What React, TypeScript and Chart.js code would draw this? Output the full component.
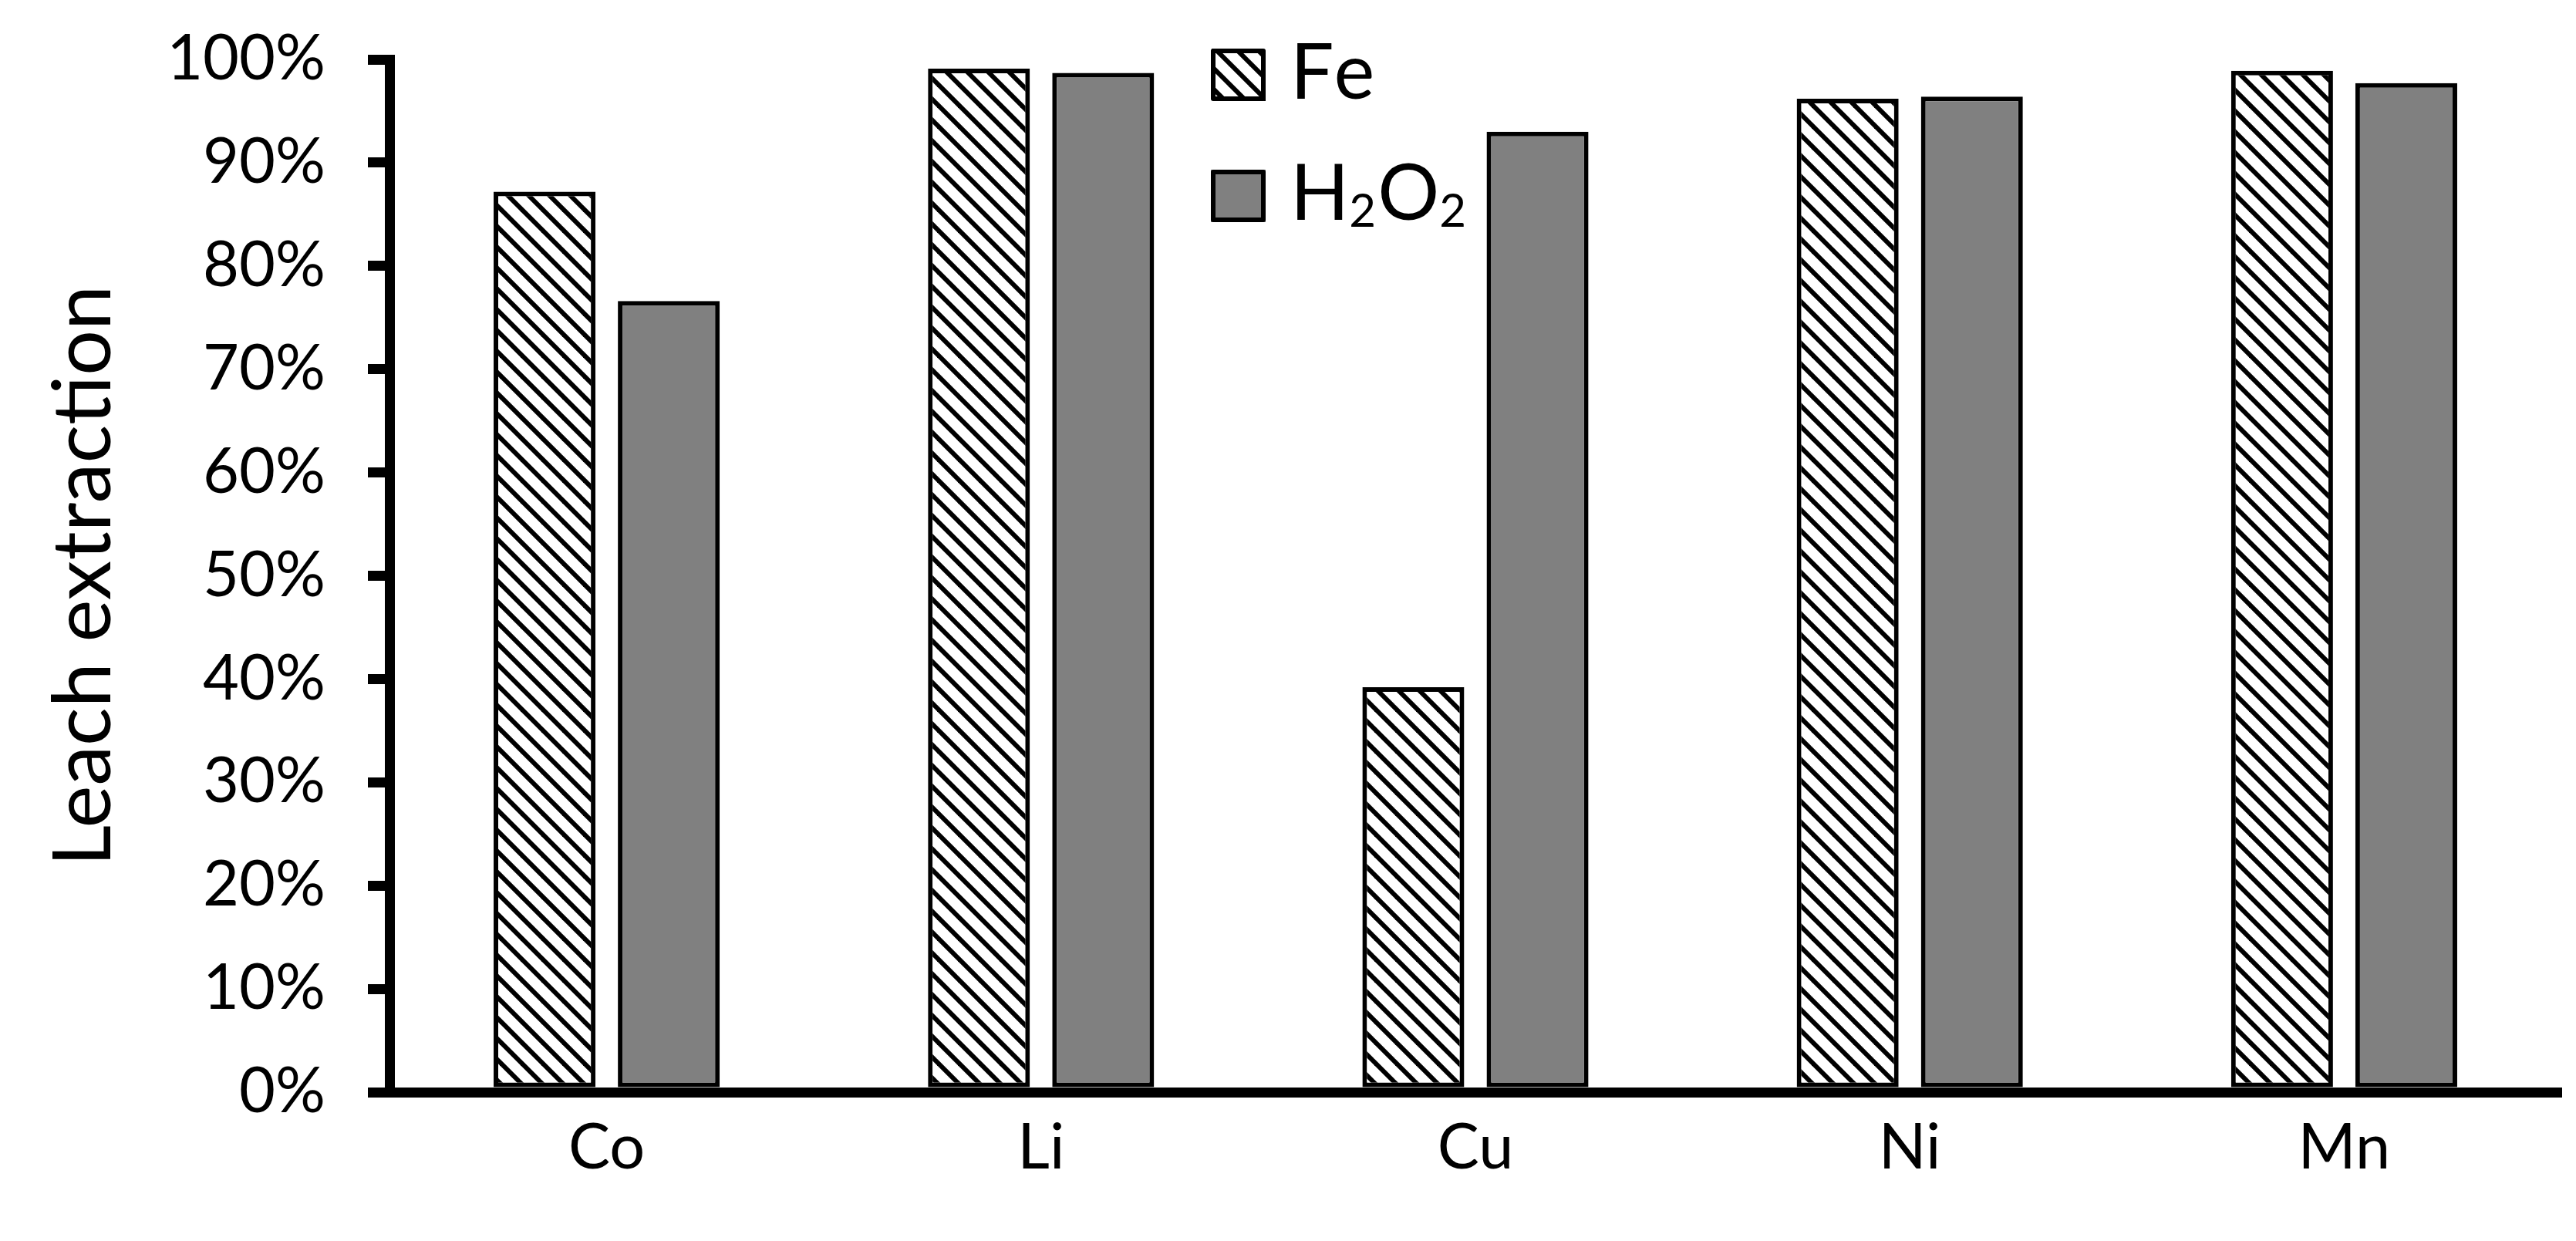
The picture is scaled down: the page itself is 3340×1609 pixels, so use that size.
import React, { useEffect, useRef } from 'react';
import { Chart, registerables } from 'chart.js';

Chart.register(...registerables);

// ---- data ----
const categories = ['Co', 'Li', 'Cu', 'Ni', 'Mn'];
const seriesLabels = ['Fe', 'H₂O₂'];
const feValues = [87.2, 99.1, 39.2, 96.2, 98.9];
const h2o2Values = [76.6, 98.7, 93.0, 96.4, 97.7];
const yAxisTitle = 'Leach extraction';
const yMin = 0;
const yMax = 100;
const yStep = 10;

const W = 3340;
const H = 1609;
const FONT = 'Lato';

function makeHatch(ctxRef: CanvasRenderingContext2D): CanvasPattern | string {
  const s = 27;
  const c = document.createElement('canvas');
  c.width = s;
  c.height = s;
  const g = c.getContext('2d');
  if (!g) return '#fff';
  g.fillStyle = '#ffffff';
  g.fillRect(0, 0, s, s);
  g.strokeStyle = '#000000';
  g.lineWidth = 6;
  g.lineCap = 'square';
  for (const k of [-s, 0, s]) {
    g.beginPath();
    g.moveTo(k, 0);
    g.lineTo(k + s, s);
    g.stroke();
  }
  return ctxRef.createPattern(c, 'repeat') || '#fff';
}

const SUBS: Record<string, string> = {
  '₀': '0', '₁': '1', '₂': '2', '₃': '3', '₄': '4',
  '₅': '5', '₆': '6', '₇': '7', '₈': '8', '₉': '9',
};

function drawRichText(ctx: CanvasRenderingContext2D, text: string, x: number, y: number, size: number) {
  let cx = x;
  for (const ch of Array.from(text)) {
    if (SUBS[ch] !== undefined) {
      const ss = Math.round(size * 0.6);
      ctx.font = `${ss}px ${FONT}`;
      ctx.fillText(SUBS[ch], cx, y + size * 0.09);
      cx += ctx.measureText(SUBS[ch]).width + size * 0.02;
    } else {
      ctx.font = `${size}px ${FONT}`;
      ctx.fillText(ch, cx, y);
      cx += ctx.measureText(ch).width;
    }
  }
}

const boxLegend = {
  id: 'boxLegend',
  afterDraw(chart: any, _args: any, opts: any) {
    const ctx: CanvasRenderingContext2D = chart.ctx;
    chart.data.datasets.forEach((ds: any, i: number) => {
      const bx = opts.x;
      const by = opts.y + i * opts.rowGap;
      ctx.save();
      ctx.fillStyle = ds.backgroundColor;
      ctx.fillRect(bx, by, opts.boxW, opts.boxH);
      ctx.lineWidth = opts.border;
      ctx.strokeStyle = '#000';
      ctx.lineJoin = 'round';
      ctx.strokeRect(bx + opts.border / 2, by + opts.border / 2, opts.boxW - opts.border, opts.boxH - opts.border);
      ctx.fillStyle = '#000';
      ctx.textBaseline = 'alphabetic';
      ctx.textAlign = 'left';
      drawRichText(ctx, ds.label, bx + opts.boxW + opts.gap, by + opts.baseline, opts.fontSize);
      ctx.restore();
    });
  },
};

export default function App() {
  const ref = useRef<HTMLCanvasElement | null>(null);

  useEffect(() => {
    const canvas = ref.current;
    if (!canvas) return;
    const ctx = canvas.getContext('2d');
    if (!ctx) return;
    const hatch = makeHatch(ctx);

    const chart = new Chart(ctx, {
      type: 'bar',
      data: {
        labels: categories,
        datasets: [
          {
            label: seriesLabels[0],
            data: feValues,
            backgroundColor: hatch as any,
            borderColor: '#000',
            borderWidth: 6,
            borderSkipped: false,
            categoryPercentage: 0.572,
            barPercentage: 0.82,
          },
          {
            label: seriesLabels[1],
            data: h2o2Values,
            backgroundColor: '#808080',
            borderColor: '#000',
            borderWidth: 6,
            borderSkipped: false,
            categoryPercentage: 0.572,
            barPercentage: 0.82,
          },
        ],
      },
      options: {
        animation: false,
        responsive: false,
        devicePixelRatio: 1,
        layout: { padding: { top: 77, right: 19, bottom: 0, left: 0 } },
        plugins: {
          legend: { display: false },
          tooltip: { enabled: false },
          boxLegend: {
            x: 1570,
            y: 63,
            rowGap: 157,
            boxW: 71,
            boxH: 68,
            border: 6,
            gap: 32,
            baseline: 65,
            fontSize: 100,
          },
        } as any,
        scales: {
          x: {
            grid: { display: true, drawOnChartArea: false, drawTicks: false },
            border: { display: true, color: '#000', width: 13, z: 1 },
            ticks: { color: '#000', font: { size: 81, family: FONT }, padding: 24 },
            afterFit: (s: any) => {
              s.height = 193;
              s.paddingLeft = 0;
              s.paddingRight = 0;
            },
          },
          y: {
            min: yMin,
            max: yMax,
            ticks: {
              stepSize: yStep,
              color: '#000',
              font: { size: 81, family: FONT },
              padding: 55,
              callback: (v: any) => `${v}%`,
            },
            grid: { drawOnChartArea: false, drawTicks: true, tickLength: 28, lineWidth: 13, color: '#000' },
            border: { display: true, color: '#000', width: 13, z: 1 },
            title: {
              display: true,
              text: yAxisTitle,
              color: '#000',
              font: { size: 104, family: FONT },
              padding: { top: 47, bottom: 0 },
            },
            afterFit: (s: any) => {
              s.width = 505;
              s.paddingTop = 0;
              s.paddingBottom = 0;
            },
          },
        },
      },
      plugins: [boxLegend],
    });

    return () => chart.destroy();
  }, []);

  return (
    <div style={{ position: 'absolute', left: 0, top: 0, width: W, height: H, background: '#fff' }}>
      <canvas ref={ref} width={W} height={H} style={{ width: W, height: H, display: 'block' }} />
    </div>
  );
}
